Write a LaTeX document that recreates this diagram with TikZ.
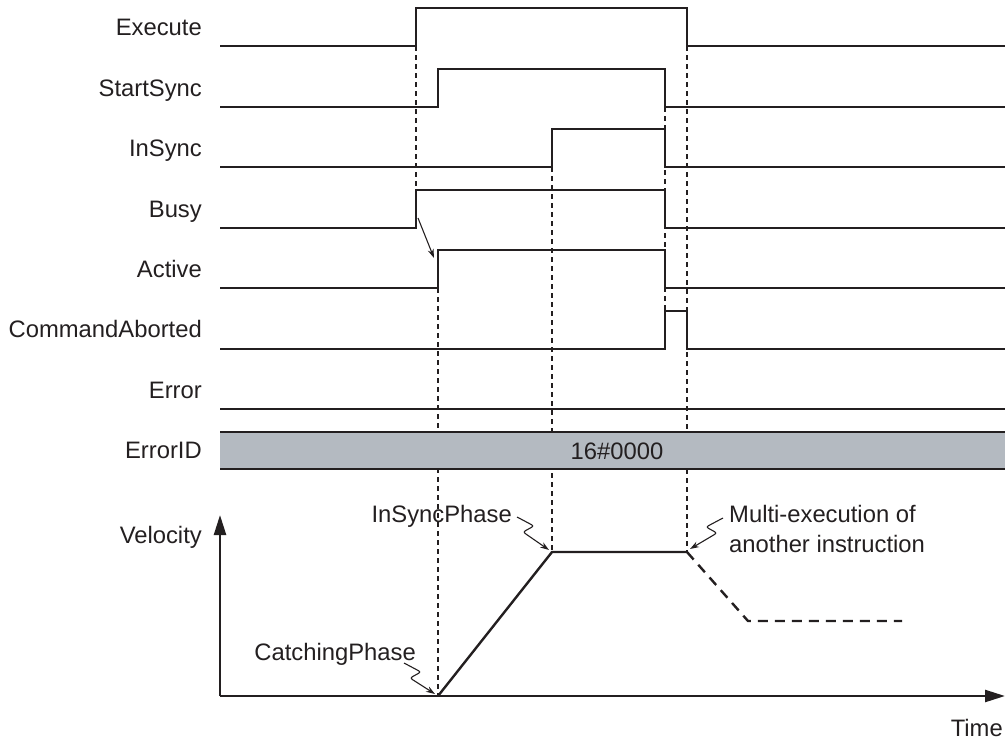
\documentclass[tikz,border=0pt]{standalone}
\usepackage{fontspec}
\setmainfont{Liberation Sans}
\usetikzlibrary{arrows.meta}
\definecolor{ink}{HTML}{231F20}
\definecolor{idgray}{HTML}{B4BAC1}

\newcommand{\xstart}{220}
\newcommand{\xend}{1005}
\newcommand{\hi}{38}
% low level, rising edge, falling edge
\newcommand{\pulse}[3]{%
    \draw[sig] (\xstart,#1) -- (#2,#1) -- (#2,#1-\hi) -- (#3,#1-\hi) -- (#3,#1) -- (\xend,#1);%
}
% squiggle arrow: start, tip, side (+1 or -1)
\newcommand{\zig}[3]{%
    \draw[zigline] (#1) -- ++(#3*17,9) -- ++(#3*-11,6) -- (#2);%
}

\begin{document}
\begin{tikzpicture}[x=1pt, y=-1pt, line width=2.4pt,
    sig/.style={draw=ink, line width=2.4pt},
    guide/.style={draw=ink, line width=1.1pt, dash pattern=on 5pt off 4pt},
    lbl/.style={font=\fontsize{23.8}{30}\selectfont, text=ink, inner sep=0pt},
    zigline/.style={draw=ink, line width=1.1pt, rounded corners=2.5pt,
        -{Stealth[length=9pt, width=6pt]}},
    axis/.style={draw=ink, line width=2.4pt, -{Triangle[length=20pt, width=12pt]}}]
    \useasboundingbox (0,0) rectangle (1005,742);

    % --- Signal names ---
    \node[lbl, anchor=base east] (execute) at (203,35) {Execute};
    \node[lbl, anchor=base east] (startsync) at (203,96) {StartSync};
    \node[lbl, anchor=base east] (insync) at (203,156) {InSync};
    \node[lbl, anchor=base east] (busy) at (203,217) {Busy};
    \node[lbl, anchor=base east] (active) at (203,277) {Active};
    \node[lbl, anchor=base east] (cmdaborted) at (203,337) {CommandAborted};
    \node[lbl, anchor=base east] (error) at (203,398) {Error};
    \node[lbl, anchor=base east] (errorid) at (203,458) {ErrorID};
    \node[lbl, anchor=base east] (velocity) at (203,543) {Velocity};

    % --- Dashed guide lines ---
    \draw[guide] (416,46) -- (416,190);
    \draw[guide] (438,288) -- (438,696);
    \draw[guide] (552,167) -- (552,552);
    \draw[guide] (665,107) -- (665,311);
    \draw[guide] (687,46) -- (687,552);

    % --- Bit signals ---
    \pulse{46}{416}{687}
    \pulse{107}{438}{665}
    \pulse{167}{552}{665}
    \pulse{228}{416}{665}
    \pulse{288}{438}{665}
    \pulse{349}{665}{687}
    \draw[sig] (\xstart,409) -- (\xend,409);

    % Busy starts Active
    \coordinate (busyup) at (418,218);
    \coordinate (activeup) at (434,258);
    \draw[draw=ink, line width=1.1pt, -{Stealth[length=9pt, width=6pt]}] (busyup) -- (activeup);

    % --- ErrorID bar ---
    \fill[idgray] (\xstart,432) rectangle (\xend,469);
    \draw[sig] (\xstart,432) -- (\xend,432);
    \draw[sig] (\xstart,469) -- (\xend,469);
    \node[lbl] (idvalue) at (617,451) {16\#0000};

    % --- Velocity graph ---
    \coordinate (origin) at (220,696);
    \coordinate (vtop) at (220,515);
    \coordinate (tend) at (1005,696);
    \draw[axis] (origin) -- (vtop);
    \draw[axis] (origin) -- (tend);
    \node[lbl, anchor=base east] (time) at (1004,736) {Time};

    \coordinate (catch) at (438,696);
    \coordinate (syncstart) at (552,552);
    \coordinate (syncend) at (687,552);
    \coordinate (decel) at (748,621);
    \coordinate (stopend) at (902,621);
    \draw[sig, line join=miter] (catch) -- (syncstart) -- (syncend);
    \draw[sig, dash pattern=on 10pt off 7pt] (syncend) -- (decel) -- (stopend);

    % --- Phase labels ---
    \node[lbl, anchor=base east] (insyncphase) at (513,522) {InSyncPhase};
    \node[lbl, anchor=base west, align=left] (multiexec) at (728,552)
        {Multi-execution of\\another instruction};
    \node[lbl, anchor=base east] (catchphase) at (417,660) {CatchingPhase};
    \coordinate (zsync) at (517,517);
    \coordinate (zmulti) at (723,518);
    \coordinate (zcatch) at (404,663);
    \zig{zsync}{549,550}{1}
    \zig{zmulti}{690,549}{-1}
    \zig{zcatch}{435,694}{1}
\end{tikzpicture}
\end{document}
